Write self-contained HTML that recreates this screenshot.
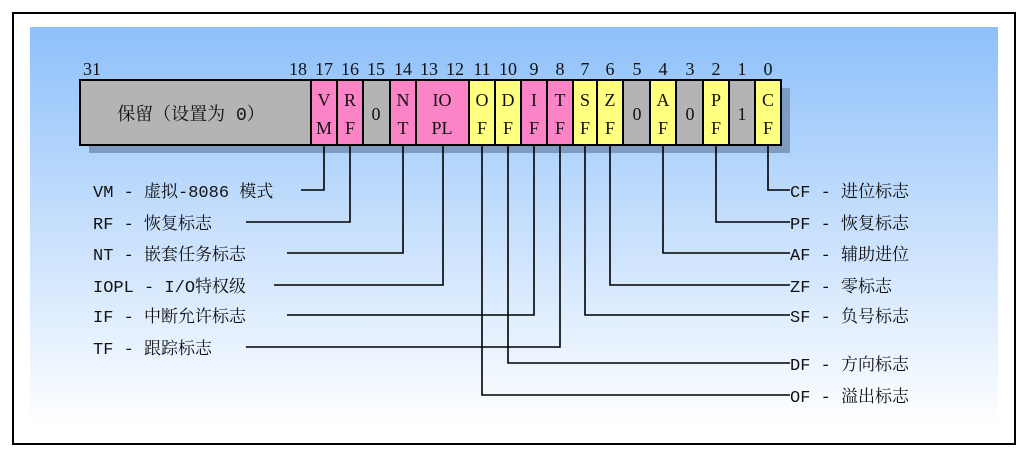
<!DOCTYPE html>
<html><head><meta charset="utf-8"><style>
html,body{margin:0;padding:0;background:#fff;}
svg{display:block;}
text{font-family:"Liberation Mono","Noto Serif CJK SC",monospace;font-size:17px;fill:#111;}
.n{font-family:"Liberation Serif","Noto Serif CJK SC",serif;font-size:18px;}
</style></head><body>
<svg width="1027" height="452" viewBox="0 0 1027 452">
<defs><linearGradient id="g" x1="0" y1="0" x2="0" y2="1">
<stop offset="0" stop-color="#8ec0fa"/><stop offset="1" stop-color="#ffffff"/></linearGradient></defs>
<rect x="0" y="0" width="1027" height="452" fill="#fff"/>
<rect x="13" y="13" width="1002" height="431" fill="#fff" stroke="#000" stroke-width="2"/>
<rect x="30" y="27" width="968" height="401" fill="url(#g)"/>
<rect x="89" y="88" width="701" height="65" fill="#7f9bc0"/>
<g stroke="#000" stroke-width="2">
<rect x="80" y="80" width="231" height="65" fill="#b4b4b4"/>
<rect x="311" y="80" width="26" height="65" fill="#fb84c7"/>
<rect x="337" y="80" width="26" height="65" fill="#fb84c7"/>
<rect x="363" y="80" width="27" height="65" fill="#b4b4b4"/>
<rect x="390" y="80" width="26" height="65" fill="#fb84c7"/>
<rect x="416" y="80" width="53" height="65" fill="#fb84c7"/>
<rect x="469" y="80" width="26" height="65" fill="#ffff80"/>
<rect x="495" y="80" width="26" height="65" fill="#ffff80"/>
<rect x="521" y="80" width="26" height="65" fill="#fb84c7"/>
<rect x="547" y="80" width="26" height="65" fill="#fb84c7"/>
<rect x="573" y="80" width="24" height="65" fill="#ffff80"/>
<rect x="597" y="80" width="26" height="65" fill="#ffff80"/>
<rect x="623" y="80" width="27" height="65" fill="#b4b4b4"/>
<rect x="650" y="80" width="26" height="65" fill="#ffff80"/>
<rect x="676" y="80" width="27" height="65" fill="#b4b4b4"/>
<rect x="703" y="80" width="26" height="65" fill="#ffff80"/>
<rect x="729" y="80" width="26" height="65" fill="#b4b4b4"/>
<rect x="755" y="80" width="26" height="65" fill="#ffff80"/>
</g>
<g text-anchor="middle" class="n">
<text class="n" x="92" y="75">31</text><text class="n" x="298" y="75">18</text><text class="n" x="324" y="75">17</text><text class="n" x="350" y="75">16</text>
<text class="n" x="376" y="75">15</text><text class="n" x="403" y="75">14</text><text class="n" x="429" y="75">13</text><text class="n" x="455" y="75">12</text>
<text class="n" x="482" y="75">11</text><text class="n" x="508" y="75">10</text><text class="n" x="534" y="75">9</text><text class="n" x="560" y="75">8</text>
<text class="n" x="585" y="75">7</text><text class="n" x="610" y="75">6</text><text class="n" x="637" y="75">5</text><text class="n" x="663" y="75">4</text>
<text class="n" x="690" y="75">3</text><text class="n" x="716" y="75">2</text><text class="n" x="742" y="75">1</text><text class="n" x="768" y="75">0</text>
<text x="191" y="120" style="font-size:18px">保留（设置为 0）</text>
<text class="n" x="324" y="106">V</text><text class="n" x="324" y="134">M</text>
<text class="n" x="350" y="106">R</text><text class="n" x="350" y="134">F</text>
<text class="n" x="376" y="120">0</text>
<text class="n" x="403" y="106">N</text><text class="n" x="403" y="134">T</text>
<text class="n" x="442" y="106">IO</text><text class="n" x="442" y="134">PL</text>
<text class="n" x="482" y="106">O</text><text class="n" x="482" y="134">F</text>
<text class="n" x="508" y="106">D</text><text class="n" x="508" y="134">F</text>
<text class="n" x="534" y="106">I</text><text class="n" x="534" y="134">F</text>
<text class="n" x="560" y="106">T</text><text class="n" x="560" y="134">F</text>
<text class="n" x="585" y="106">S</text><text class="n" x="585" y="134">F</text>
<text class="n" x="610" y="106">Z</text><text class="n" x="610" y="134">F</text>
<text class="n" x="637" y="120">0</text>
<text class="n" x="663" y="106">A</text><text class="n" x="663" y="134">F</text>
<text class="n" x="690" y="120">0</text>
<text class="n" x="716" y="106">P</text><text class="n" x="716" y="134">F</text>
<text class="n" x="742" y="120">1</text>
<text class="n" x="768" y="106">C</text><text class="n" x="768" y="134">F</text>
</g>
<g fill="none" stroke="#000" stroke-width="1.6">
<polyline points="324,146 324,190 301,190"/>
<polyline points="350,146 350,222 246,222"/>
<polyline points="403,146 403,253 287,253"/>
<polyline points="443,146 443,285 274,285"/>
<polyline points="534,146 534,315 287,315"/>
<polyline points="560,146 560,347 246,347"/>
<polyline points="768,146 768,190 790,190"/>
<polyline points="716,146 716,222 790,222"/>
<polyline points="663,146 663,253 790,253"/>
<polyline points="610,146 610,285 790,285"/>
<polyline points="585,146 585,315 790,315"/>
<polyline points="508,146 508,363 790,363"/>
<polyline points="482,146 482,395 790,395"/>
</g>
<text x="93" y="197">VM - 虚拟-8086 模式</text>
<text x="93" y="229">RF - 恢复标志</text>
<text x="93" y="260">NT - 嵌套任务标志</text>
<text x="93" y="292">IOPL - I/O特权级</text>
<text x="93" y="322">IF - 中断允许标志</text>
<text x="93" y="354">TF - 跟踪标志</text>
<text x="790" y="197">CF - 进位标志</text>
<text x="790" y="229">PF - 恢复标志</text>
<text x="790" y="260">AF - 辅助进位</text>
<text x="790" y="292">ZF - 零标志</text>
<text x="790" y="322">SF - 负号标志</text>
<text x="790" y="370">DF - 方向标志</text>
<text x="790" y="402">OF - 溢出标志</text>
</svg>
</body></html>
